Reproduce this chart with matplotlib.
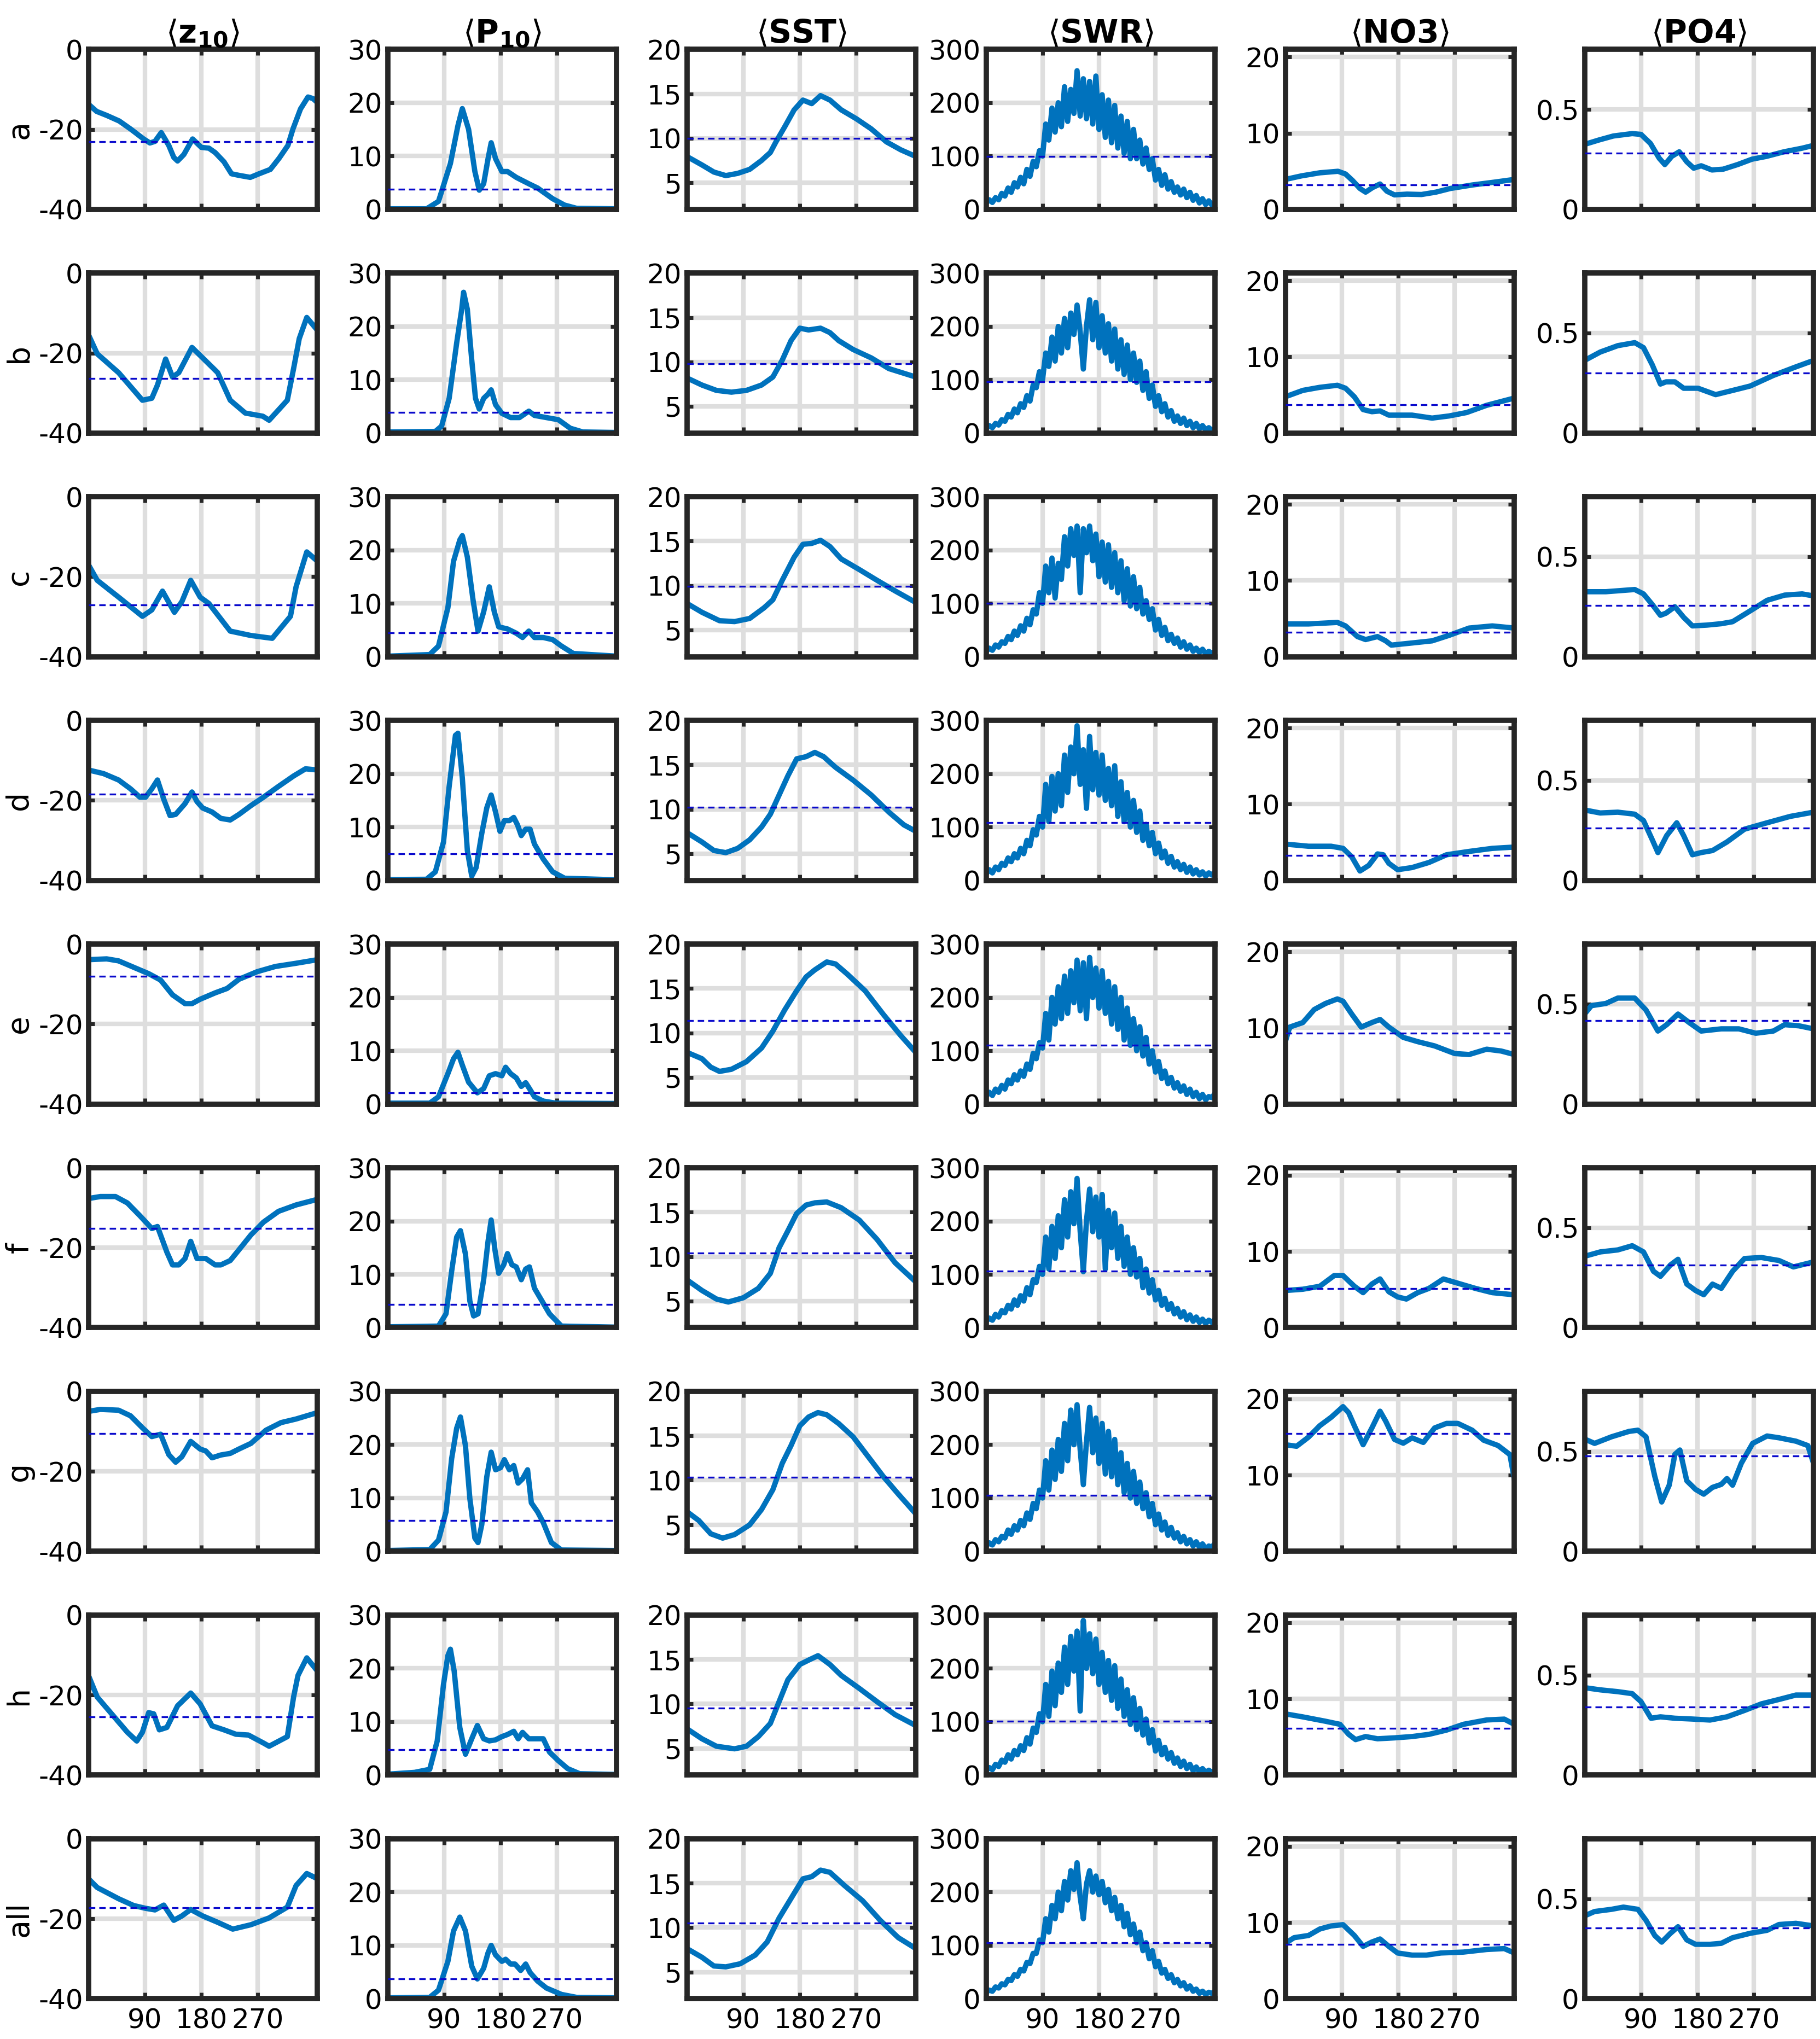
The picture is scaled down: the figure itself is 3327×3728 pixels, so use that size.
import numpy as np
import matplotlib

matplotlib.use("Agg")
import matplotlib.pyplot as plt

# Rows (regions) and columns (variables)
rows = ["a", "b", "c", "d", "e", "f", "g", "h", "all"]
titles = [r"$\langle\mathbf{z}_\mathbf{10}\rangle$", r"$\langle\mathbf{P}_\mathbf{10}\rangle$",
          r"$\langle\mathbf{SST}\rangle$", r"$\langle\mathbf{SWR}\rangle$",
          r"$\langle\mathbf{NO3}\rangle$", r"$\langle\mathbf{PO4}\rangle$"]

# (day, value) pairs
z10 = {
    "a": [(0, -13.7), (13, -15.5), (29, -16.5), (49, -17.9), (68, -20), (88, -22.4), (98, -23.4), (106, -23), (116, -20.8), (128, -24), (136, -27), (142, -27.9), (152, -26.3), (166, -22.4), (172, -23.3), (180, -24.5), (192, -24.7), (202, -25.8), (216, -28.1), (228, -31.1), (240, -31.5), (258, -32), (272, -31.1), (290, -30), (304, -27.2), (318, -24), (326, -19.9), (338, -14.9), (350, -11.9), (358, -12.3), (365, -13.3)],
    "b": [(0, -15.4), (14, -20.2), (48, -24.9), (86, -31.8), (101, -31.3), (110, -28), (123, -21.5), (134, -26), (144, -24.9), (165, -18.6), (182, -21.2), (206, -24.9), (226, -31.8), (250, -35), (278, -35.8), (288, -36.8), (317, -31.8), (327, -23.9), (336, -16.4), (348, -11.1), (365, -14.3)],
    "c": [(0, -17), (14, -20.9), (48, -25.1), (86, -29.9), (101, -28.3), (118, -23.6), (137, -28.9), (149, -26.2), (163, -20.9), (178, -25.1), (192, -26.7), (226, -33.6), (259, -34.7), (283, -35.2), (293, -35.4), (322, -29.9), (331, -22.5), (348, -13.8), (365, -16.1)],
    "d": [(0, -12.4), (24, -13.3), (48, -14.9), (67, -17.1), (82, -19.2), (91, -19.2), (101, -17.1), (110, -14.9), (120, -19.7), (130, -23.8), (139, -23.5), (154, -20.8), (165, -17.9), (173, -20.3), (182, -21.9), (197, -22.9), (211, -24.5), (226, -24.9), (240, -23.5), (259, -21.3), (279, -19.2), (303, -16.5), (327, -13.9), (346, -12.1), (365, -12.4)],
    "e": [(0, -3.9), (29, -3.7), (48, -4.2), (72, -5.8), (96, -7.4), (115, -9), (134, -12.7), (154, -14.9), (165, -14.9), (178, -13.8), (202, -12.2), (221, -11.1), (240, -8.8), (269, -6.9), (298, -5.6), (331, -4.8), (365, -3.9)],
    "f": [(0, -7.7), (19, -7.2), (43, -7.2), (62, -8.8), (82, -12), (101, -15.2), (110, -14.7), (125, -21.1), (134, -24.3), (144, -24.3), (154, -22.7), (163, -18.4), (173, -22.7), (187, -22.7), (202, -24.3), (211, -24.3), (226, -23.2), (240, -20.5), (259, -16.8), (279, -13.6), (303, -10.9), (331, -9.3), (365, -7.9)],
    "g": [(0, -5), (19, -4.5), (48, -4.7), (67, -6.1), (86, -9.1), (101, -11.3), (115, -10.7), (128, -15.8), (139, -17.7), (149, -16.3), (163, -12.5), (178, -14.4), (187, -14.9), (197, -16.6), (211, -15.9), (226, -15.5), (240, -14.4), (259, -13), (283, -9.7), (307, -7.8), (331, -6.9), (365, -5.3)],
    "h": [(0, -15.1), (14, -20.5), (38, -24.9), (62, -29.3), (77, -31.5), (86, -29.3), (96, -24.4), (104, -24.7), (113, -28.7), (125, -28.1), (142, -22.7), (163, -19.5), (178, -22.2), (197, -27.7), (216, -28.7), (235, -29.8), (255, -30), (279, -32), (288, -32.8), (317, -30.4), (327, -20.5), (334, -15.1), (348, -10.7), (365, -14)],
    "all": [(0, -10), (14, -12.2), (48, -15), (72, -16.7), (91, -17.4), (106, -17.8), (120, -16.6), (136, -20.4), (149, -19.3), (163, -17.7), (182, -19.3), (206, -20.9), (230, -22.6), (259, -21.5), (288, -19.8), (317, -17.1), (331, -11.7), (348, -8.7), (365, -10)],
}

p10 = {
    "a": [(0, 0.1), (62, 0.1), (81, 1.5), (100, 8.6), (112, 15.7), (119, 18.9), (129, 15), (139, 7.1), (146, 3.6), (153, 4.8), (160, 9.5), (165, 12.5), (172, 9.5), (182, 7.1), (191, 7.1), (205, 6), (215, 5.4), (225, 4.8), (239, 4), (263, 2), (282, 0.8), (301, 0.2), (365, 0.1)],
    "b": [(0, 0.2), (76, 0.3), (86, 1.3), (98, 6.5), (110, 16.9), (118, 23.2), (121, 26.4), (127, 23.2), (134, 13.7), (140, 6.5), (146, 4.5), (153, 6.5), (160, 7.3), (165, 8.1), (172, 5.3), (182, 3.7), (196, 2.9), (210, 2.9), (225, 4.1), (234, 3.3), (253, 2.9), (272, 2.5), (291, 0.9), (311, 0.2), (365, 0.1)],
    "c": [(0, 0.1), (67, 0.4), (81, 2), (96, 9.2), (105, 17.9), (115, 21.9), (119, 22.7), (127, 18.7), (136, 10.7), (144, 4.8), (153, 8.4), (162, 13.1), (170, 8.4), (177, 5.6), (191, 5.2), (205, 4.4), (215, 3.6), (225, 4.8), (234, 3.6), (248, 3.6), (263, 3.2), (277, 2), (296, 0.6), (365, 0.1)],
    "d": [(0, 0.16), (62, 0.2), (76, 1.6), (89, 7.2), (98, 17.6), (108, 27.2), (112, 27.6), (119, 19.2), (127, 5.6), (134, 0.8), (141, 2.4), (150, 8.8), (158, 13.6), (165, 16), (172, 12.8), (179, 9.2), (186, 11.2), (194, 11.2), (201, 11.8), (207, 10.4), (213, 8.4), (220, 9.6), (227, 9.6), (234, 6.8), (248, 4), (263, 1.6), (282, 0.4), (365, 0.1)],
    "e": [(0, 0.16), (67, 0.16), (81, 1.35), (96, 5.7), (105, 8.5), (112, 9.7), (119, 7.3), (129, 4.1), (143, 2.1), (153, 2.9), (162, 5.3), (172, 5.7), (182, 5.3), (188, 6.9), (196, 5.7), (205, 4.9), (213, 3.3), (220, 4), (226, 2.9), (234, 1.35), (248, 0.56), (268, 0.16), (365, 0.1)],
    "f": [(0, 0.16), (81, 0.3), (93, 2.6), (102, 10.6), (110, 17), (116, 18.2), (124, 13.8), (131, 5), (137, 2.2), (144, 2.6), (153, 9), (160, 16.2), (165, 20.2), (171, 14.6), (177, 10.2), (185, 11.8), (191, 13.9), (198, 11.8), (205, 11.4), (213, 9), (220, 11), (226, 11.4), (234, 7.4), (244, 5.4), (258, 2.6), (277, 0.3), (365, 0.1)],
    "g": [(0, 0.16), (67, 0.33), (81, 2.1), (93, 7.4), (102, 17.4), (110, 23.1), (116, 25.2), (124, 19.8), (131, 9.9), (139, 2.5), (144, 1.65), (150, 5), (158, 14), (165, 18.6), (172, 15.3), (180, 15.7), (186, 17.2), (194, 15.3), (201, 16.1), (208, 12.8), (215, 13.6), (223, 15.3), (229, 9.1), (239, 7.4), (248, 5.4), (261, 1.65), (277, 0.25), (365, 0.16)],
    "h": [(0, 0.16), (43, 0.5), (67, 1.07), (79, 6.4), (89, 17), (96, 22.4), (100, 23.6), (106, 19.5), (115, 8.9), (124, 3.9), (134, 6.8), (143, 9.3), (153, 6.8), (162, 6.4), (172, 6.6), (182, 7.2), (191, 7.6), (201, 8.2), (208, 6.8), (215, 8), (225, 6.8), (239, 6.8), (248, 6.8), (258, 4.3), (272, 2.7), (287, 1.2), (306, 0.25), (365, 0.1)],
    "all": [(0, 0.16), (67, 0.25), (81, 1.6), (96, 7), (105, 12.7), (115, 15.3), (124, 12.7), (134, 6.1), (143, 3.7), (153, 5.7), (160, 8.6), (165, 10), (172, 8.2), (182, 7), (188, 7.4), (196, 6.5), (203, 6.5), (212, 5.3), (220, 6.5), (227, 4.9), (239, 3.3), (253, 2), (277, 0.8), (301, 0.25), (365, 0.16)],
}

sst = {
    "a": [(0, 7.95), (24, 7), (43, 6.2), (62, 5.8), (81, 6.05), (100, 6.5), (119, 7.5), (133, 8.4), (142, 9.6), (156, 11.3), (171, 13.2), (185, 14.3), (199, 13.9), (213, 14.8), (228, 14.3), (246, 13.2), (270, 12.2), (294, 11.05), (318, 9.6), (341, 8.7), (365, 7.95)],
    "b": [(0, 8.2), (24, 7.4), (47, 6.8), (71, 6.6), (95, 6.8), (119, 7.4), (137, 8.3), (152, 10.2), (166, 12.4), (180, 13.8), (194, 13.6), (213, 13.8), (228, 13.3), (242, 12.4), (265, 11.4), (294, 10.45), (322, 9.25), (365, 8.3)],
    "c": [(0, 8), (24, 7), (52, 6.05), (76, 5.95), (100, 6.3), (123, 7.5), (137, 8.4), (152, 10.6), (171, 13.2), (185, 14.65), (199, 14.75), (213, 15.1), (228, 14.4), (246, 13), (275, 11.8), (303, 10.6), (332, 9.4), (365, 8.1)],
    "d": [(0, 7.38), (24, 6.32), (43, 5.36), (62, 5.12), (81, 5.6), (100, 6.56), (119, 8), (133, 9.44), (147, 11.6), (161, 13.76), (175, 15.68), (190, 15.92), (204, 16.4), (218, 15.92), (237, 14.72), (265, 13.28), (294, 11.6), (322, 9.68), (346, 8.24), (365, 7.52)],
    "e": [(0, 7.82), (24, 7.1), (38, 6.15), (52, 5.67), (71, 5.91), (95, 6.77), (119, 8.3), (137, 10.2), (156, 12.6), (175, 14.75), (190, 16.3), (204, 17.1), (223, 17.99), (237, 17.76), (256, 16.6), (284, 14.75), (313, 12.1), (341, 9.7), (365, 7.8)],
    "f": [(0, 7.39), (24, 6.19), (47, 5.23), (66, 4.89), (90, 5.37), (114, 6.43), (133, 8.11), (147, 11), (161, 12.9), (175, 14.85), (190, 15.8), (204, 16.05), (223, 16.15), (246, 15.5), (275, 14.1), (303, 11.95), (332, 9.3), (365, 7.15)],
    "g": [(0, 6.47), (19, 5.47), (38, 3.98), (57, 3.49), (76, 3.89), (100, 4.98), (119, 6.71), (137, 8.94), (152, 11.9), (166, 13.9), (180, 16.13), (194, 17.12), (209, 17.62), (223, 17.37), (242, 16.38), (265, 14.89), (289, 12.66), (313, 10.43), (337, 8.45), (365, 6.22)],
    "h": [(0, 7.21), (24, 6.08), (47, 5.24), (76, 4.95), (95, 5.24), (114, 6.33), (133, 7.8), (147, 10.26), (161, 12.72), (180, 14.44), (194, 14.93), (209, 15.43), (228, 14.44), (246, 13.21), (275, 11.74), (303, 10.26), (332, 8.79), (365, 7.56)],
    "all": [(0, 7.64), (24, 6.66), (43, 5.68), (62, 5.58), (85, 5.93), (109, 6.91), (128, 8.38), (147, 11.07), (166, 13.28), (185, 15.49), (199, 15.73), (213, 16.47), (228, 16.22), (251, 14.75), (280, 13.03), (308, 10.83), (337, 8.87), (365, 7.64)],
}

# SWR is sampled every 5 days (noisy daily signal)
swr_days = list(range(0, 365, 5)) + [365]
swr = {
    "a": [12, 18, 13, 22, 18, 30, 25, 40, 32, 50,
          42, 60, 48, 75, 62, 90, 80, 110, 100, 160,
          130, 190, 145, 200, 155, 230, 165, 225, 180, 260,
          175, 245, 170, 240, 160, 250, 150, 215, 135, 205,
          125, 195, 115, 175, 105, 165, 95, 150, 95, 130,
          85, 115, 75, 95, 55, 75, 45, 65, 38, 52,
          32, 42, 27, 38, 22, 32, 17, 26, 12, 20,
          9, 16, 8, 12],
    "b": [8, 14, 10, 18, 15, 25, 22, 35, 30, 45,
          38, 55, 48, 70, 60, 90, 85, 115, 100, 150,
          125, 180, 135, 200, 150, 215, 160, 225, 185, 240,
          190, 120, 200, 250, 175, 245, 160, 220, 150, 205,
          135, 195, 120, 175, 110, 165, 100, 150, 95, 135,
          80, 115, 65, 90, 50, 70, 40, 55, 30, 42,
          22, 32, 18, 28, 14, 22, 10, 18, 8, 14,
          6, 10, 5, 8],
    "c": [10, 16, 12, 22, 18, 28, 25, 38, 32, 48,
          40, 58, 48, 72, 60, 88, 80, 120, 100, 170,
          120, 185, 110, 175, 145, 225, 170, 240, 190, 245,
          120, 240, 195, 245, 180, 230, 150, 215, 140, 210,
          130, 195, 120, 180, 105, 165, 95, 150, 90, 130,
          80, 105, 70, 90, 50, 70, 40, 55, 30, 42,
          25, 35, 18, 28, 14, 22, 10, 16, 8, 14,
          6, 10, 6, 10],
    "d": [12, 20, 14, 25, 20, 32, 28, 42, 35, 50,
          42, 60, 50, 75, 65, 95, 85, 120, 100, 180,
          110, 195, 130, 200, 140, 235, 165, 250, 200, 290,
          180, 245, 135, 270, 170, 240, 160, 235, 150, 210,
          140, 215, 120, 185, 110, 165, 100, 150, 90, 130,
          75, 105, 65, 90, 50, 70, 42, 55, 32, 45,
          25, 35, 20, 30, 15, 25, 12, 20, 10, 16,
          8, 14, 10, 16],
    "e": [15, 22, 16, 28, 22, 35, 28, 45, 38, 55,
          45, 62, 52, 75, 65, 95, 85, 115, 105, 170,
          120, 200, 150, 220, 160, 240, 170, 250, 190, 270,
          175, 265, 160, 275, 200, 255, 180, 250, 170, 230,
          150, 220, 140, 200, 120, 180, 110, 160, 100, 145,
          90, 125, 75, 100, 60, 80, 48, 62, 38, 50,
          30, 40, 24, 34, 18, 28, 14, 22, 10, 18,
          8, 14, 12, 20],
    "f": [12, 18, 14, 25, 20, 32, 28, 42, 35, 52,
          42, 60, 50, 75, 62, 90, 85, 115, 100, 170,
          110, 190, 130, 210, 150, 240, 170, 255, 195, 280,
          180, 105, 200, 260, 180, 245, 170, 250, 110, 220,
          150, 215, 130, 190, 115, 170, 100, 150, 95, 130,
          75, 110, 65, 90, 52, 70, 42, 55, 34, 45,
          26, 36, 20, 30, 15, 24, 12, 20, 10, 16,
          8, 14, 10, 16],
    "g": [10, 16, 12, 22, 18, 28, 25, 40, 32, 48,
          40, 58, 48, 72, 60, 90, 80, 115, 100, 170,
          115, 190, 135, 210, 150, 240, 170, 265, 200, 275,
          190, 125, 205, 270, 185, 250, 165, 240, 145, 225,
          140, 210, 125, 185, 110, 165, 100, 150, 90, 130,
          80, 110, 65, 90, 50, 70, 40, 55, 30, 45,
          25, 35, 18, 28, 14, 22, 10, 18, 8, 14,
          5, 10, 8, 15],
    "h": [8, 14, 10, 20, 16, 28, 24, 38, 30, 46,
          38, 55, 46, 70, 58, 88, 80, 115, 100, 170,
          110, 195, 130, 210, 155, 240, 170, 260, 195, 270,
          120, 290, 200, 265, 190, 255, 170, 230, 155, 215,
          140, 205, 125, 180, 110, 160, 95, 145, 85, 125,
          75, 105, 60, 85, 45, 65, 38, 52, 30, 42,
          22, 32, 16, 26, 12, 20, 8, 15, 6, 12,
          5, 9, 5, 8],
    "all": [12, 16, 14, 22, 20, 28, 26, 36, 34, 45,
            42, 55, 52, 68, 66, 85, 85, 110, 105, 150,
            125, 175, 150, 200, 165, 220, 185, 240, 205, 255,
            190, 150, 215, 240, 200, 230, 195, 220, 180, 205,
            165, 190, 150, 175, 135, 160, 120, 140, 105, 125,
            90, 105, 75, 90, 60, 70, 48, 55, 38, 45,
            30, 36, 24, 30, 18, 24, 14, 18, 10, 14,
            8, 12, 10, 14],
}

no3 = {
    "a": [(0, 3.93), (26, 4.4), (55, 4.8), (84, 5), (96, 4.64), (107, 3.8), (119, 2.74), (128, 2.26), (139, 2.86), (151, 3.33), (162, 2.38), (174, 1.9), (194, 2), (217, 1.95), (240, 2.26), (263, 2.74), (298, 3.2), (333, 3.57), (365, 3.93)],
    "b": [(0, 4.76), (28, 5.6), (55, 6), (83, 6.27), (96, 5.88), (110, 4.76), (124, 3.08), (138, 2.8), (151, 2.9), (165, 2.35), (202, 2.35), (234, 1.96), (261, 2.24), (289, 2.69), (321, 3.64), (365, 4.59)],
    "c": [(0, 4.3), (37, 4.3), (83, 4.5), (96, 4.04), (115, 2.64), (128, 2.25), (147, 2.64), (160, 2.08), (169, 1.52), (202, 1.8), (234, 2.08), (261, 2.8), (293, 3.76), (330, 4.04), (365, 3.76)],
    "d": [(0, 4.76), (37, 4.48), (73, 4.48), (92, 4.2), (106, 3.08), (119, 1.23), (133, 1.96), (147, 3.47), (156, 3.36), (165, 2.24), (179, 1.4), (202, 1.68), (229, 2.35), (257, 3.36), (293, 3.8), (330, 4.2), (365, 4.37)],
    "e": [(0, 8.19), (7, 10.1), (28, 10.7), (46, 12.4), (64, 13.2), (83, 13.8), (92, 13.5), (106, 11.8), (121, 10.1), (138, 10.7), (151, 11.1), (165, 10.1), (188, 8.75), (211, 8.19), (238, 7.63), (270, 6.63), (293, 6.5), (321, 7.2), (344, 6.96), (365, 6.5)],
    "f": [(0, 4.88), (28, 5.05), (55, 5.44), (78, 6.85), (92, 6.85), (110, 5.44), (124, 4.6), (138, 5.73), (151, 6.4), (165, 4.72), (179, 4.04), (193, 3.76), (211, 4.6), (229, 5.16), (252, 6.4), (275, 5.84), (303, 5.16), (330, 4.6), (365, 4.32)],
    "g": [(0, 14), (18, 13.8), (37, 15), (55, 16.5), (73, 17.6), (92, 19), (101, 18.2), (110, 16.5), (124, 14), (138, 16.2), (151, 18.4), (160, 17.1), (174, 14.7), (188, 14.2), (202, 14.9), (220, 14.3), (238, 16.2), (257, 16.8), (275, 16.8), (298, 15.9), (316, 14.6), (339, 13.9), (358, 12.7), (365, 9.5)],
    "h": [(0, 8.03), (28, 7.63), (64, 7.06), (87, 6.66), (101, 5.34), (112, 4.65), (128, 5.05), (147, 4.76), (174, 4.88), (202, 5.05), (229, 5.34), (257, 5.9), (284, 6.66), (321, 7.23), (349, 7.34), (365, 6.66)],
    "all": [(0, 7.27), (14, 8.01), (37, 8.3), (55, 9.15), (73, 9.55), (92, 9.72), (110, 8.3), (124, 6.87), (138, 7.44), (151, 7.84), (165, 6.87), (179, 6), (202, 5.72), (225, 5.72), (248, 6), (284, 6.12), (321, 6.46), (349, 6.58), (365, 6)],
}

po4 = {
    "a": [(0, 0.325), (23, 0.347), (46, 0.367), (76, 0.379), (90, 0.375), (105, 0.33), (119, 0.256), (128, 0.224), (139, 0.265), (151, 0.288), (163, 0.238), (174, 0.206), (186, 0.218), (203, 0.197), (221, 0.201), (244, 0.224), (267, 0.251), (290, 0.265), (318, 0.288), (347, 0.306), (365, 0.32)],
    "b": [(0, 0.363), (25, 0.405), (53, 0.437), (80, 0.452), (94, 0.427), (108, 0.341), (121, 0.245), (130, 0.256), (144, 0.256), (158, 0.224), (181, 0.224), (209, 0.192), (236, 0.213), (264, 0.235), (301, 0.288), (337, 0.331), (365, 0.363)],
    "c": [(0, 0.325), (34, 0.325), (80, 0.336), (94, 0.314), (108, 0.261), (121, 0.207), (130, 0.218), (144, 0.25), (158, 0.197), (172, 0.154), (195, 0.158), (218, 0.165), (236, 0.175), (264, 0.229), (291, 0.282), (319, 0.308), (347, 0.314), (365, 0.304)],
    "d": [(0, 0.352), (25, 0.337), (53, 0.341), (80, 0.331), (94, 0.299), (108, 0.203), (117, 0.139), (131, 0.224), (147, 0.288), (158, 0.224), (172, 0.128), (186, 0.139), (204, 0.149), (227, 0.192), (255, 0.256), (291, 0.288), (328, 0.32), (365, 0.341)],
    "e": [(0, 0.45), (11, 0.492), (34, 0.503), (53, 0.53), (80, 0.53), (98, 0.47), (117, 0.365), (131, 0.397), (149, 0.45), (167, 0.407), (186, 0.365), (218, 0.376), (246, 0.376), (273, 0.354), (301, 0.365), (319, 0.397), (342, 0.391), (365, 0.376)],
    "f": [(0, 0.357), (25, 0.379), (53, 0.389), (76, 0.41), (94, 0.379), (110, 0.282), (121, 0.257), (137, 0.314), (149, 0.342), (163, 0.218), (177, 0.186), (190, 0.165), (204, 0.218), (218, 0.197), (236, 0.282), (255, 0.346), (282, 0.351), (310, 0.336), (333, 0.304), (365, 0.329)],
    "g": [(0, 0.562), (16, 0.54), (43, 0.573), (71, 0.6), (85, 0.606), (98, 0.573), (112, 0.375), (123, 0.247), (135, 0.331), (144, 0.485), (152, 0.507), (163, 0.353), (177, 0.31), (190, 0.286), (204, 0.32), (218, 0.335), (227, 0.364), (236, 0.331), (250, 0.441), (268, 0.54), (291, 0.577), (310, 0.568), (337, 0.551), (356, 0.529), (365, 0.441)],
    "h": [(0, 0.437), (25, 0.426), (53, 0.417), (76, 0.407), (90, 0.367), (106, 0.284), (121, 0.291), (144, 0.284), (172, 0.28), (200, 0.275), (227, 0.291), (255, 0.323), (282, 0.356), (310, 0.378), (337, 0.4), (365, 0.4)],
    "all": [(0, 0.414), (16, 0.436), (43, 0.447), (62, 0.458), (85, 0.447), (98, 0.392), (112, 0.316), (123, 0.283), (137, 0.327), (149, 0.36), (163, 0.294), (177, 0.272), (200, 0.272), (218, 0.277), (236, 0.305), (264, 0.327), (291, 0.342), (310, 0.371), (337, 0.377), (365, 0.364)],
}

# annual means (dashed lines), one per row
z10_mean = [-23.1, -26.3, -27.0, -18.5, -8.1, -15.2, -10.5, -25.5, -17.3]
p10_mean = [3.8, 3.9, 4.5, 5.0, 2.15, 4.4, 5.8, 4.75, 3.7]
sst_mean = [10.0, 9.8, 9.95, 10.25, 11.4, 10.4, 10.33, 9.52, 10.5]
swr_mean = [99, 96, 100, 108, 110, 106, 105, 101, 105]
no3_mean = [3.2, 3.75, 3.2, 3.25, 9.3, 5.16, 15.5, 6.1, 7.15]
po4_mean = [0.281, 0.3, 0.257, 0.262, 0.418, 0.314, 0.478, 0.341, 0.355]

ylims = [(-40, 0), (0, 30), (2, 20), (0, 300), (0, 21), (0, 0.8)]
yticks = [[-40, -20, 0], [0, 10, 20, 30], [5, 10, 15, 20], [0, 100, 200, 300], [0, 10, 20], [0, 0.5]]
ytick_labels = [["-40", "-20", "0"], ["0", "10", "20", "30"], ["5", "10", "15", "20"],
                ["0", "100", "200", "300"], ["0", "10", "20"], ["0", "0.5"]]

series = [z10, p10, sst, None, no3, po4]
means = [z10_mean, p10_mean, sst_mean, swr_mean, no3_mean, po4_mean]

W, H = 1399.0, 1568.0  # layout measured on the shrunk reference
fig = plt.figure(figsize=(16.635, 18.64), dpi=200)

frame_col = "#262626"
for r, row in enumerate(rows):
    for c in range(6):
        left = (68 + 230 * c) / W
        top = (38 + 172 * r) / H
        ax = fig.add_axes([left, 1 - top - 123 / H, 176 / W, 123 / H])

        if c == 3:
            x = swr_days
            y = swr[row]
        else:
            x = [p[0] for p in series[c][row]]
            y = [p[1] for p in series[c][row]]
        ax.plot(x, y, color="#0072BD", lw=3.5, solid_joinstyle="round", zorder=2)
        ax.axhline(means[c][r], color="#0a0acc", lw=1.2, dashes=(3.5, 2.2), zorder=3)

        ax.set_xlim(0, 365)
        ax.set_ylim(*ylims[c])
        ax.set_xticks([90, 180, 270])
        ax.set_yticks(yticks[c])
        ax.set_yticklabels(ytick_labels[c])
        if r == len(rows) - 1:
            ax.set_xticklabels(["90", "180", "270"])
        else:
            ax.set_xticklabels([])

        ax.set_axisbelow(True)
        ax.grid(True, color="#dedede", lw=3)
        for s in ax.spines.values():
            s.set_linewidth(3.5)
            s.set_color(frame_col)
        ax.tick_params(direction="in", length=4, width=2.5, color=frame_col,
                       top=True, right=True, labelsize=18, pad=3.5)
        ax.tick_params(axis="x", pad=6)

        if r == 0:
            ax.set_title(titles[c], fontsize=21, pad=3)
        if c == 0:
            ax.set_ylabel(row, fontsize=20, labelpad=3)

fig.savefig("out.png", dpi=200)
